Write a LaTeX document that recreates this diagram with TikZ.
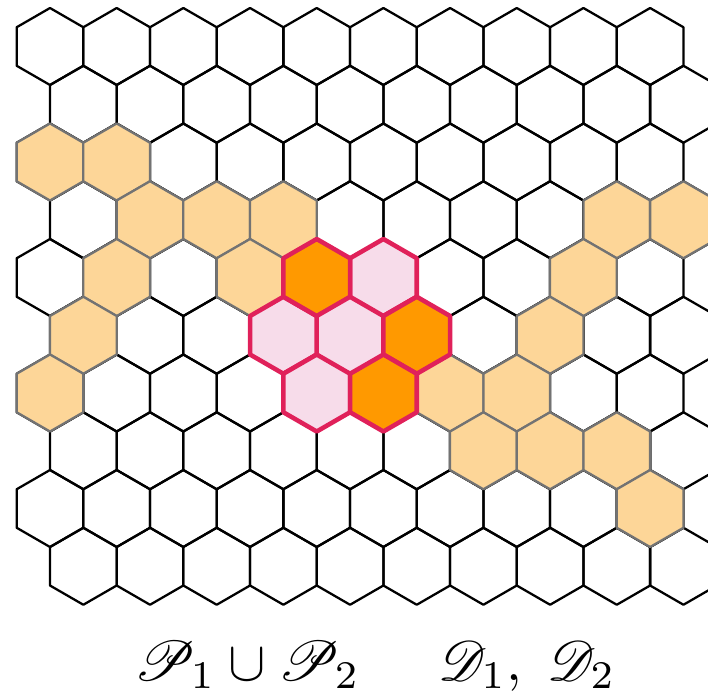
\documentclass[tikz,border=0pt]{standalone}
\usepackage{xcolor}
\usepackage{amsmath}
\usepackage{mathrsfs}
\usepackage{graphicx}
\usepackage{tikz}
\definecolor{cellpeach}{RGB}{253, 214, 152}
\definecolor{cellorange}{RGB}{255, 153, 0}
\definecolor{cellpink}{RGB}{247, 220, 234}
\definecolor{rimcrimson}{RGB}{224, 33, 90}

% one cell of the grid, row #2, column #3
\newcommand{\hexcell}[3]{%
  \pic[#1] at ({50+66.68*(#3-1)+33.34*(1-mod(#2,2))},{46.5+57.75*(#2-1)}) {hexagon};}

\begin{document}
\begin{tikzpicture}[
  x=0.75pt, y=-0.75pt,
  hexagon/.pic={\path[pic actions] (90:38.5) -- (150:38.5) -- (210:38.5)
      -- (270:38.5) -- (330:38.5) -- (30:38.5) -- cycle;},
  plain/.style={draw=black, line width=1.7pt, line join=round},
  peach/.style={fill=cellpeach, draw=black!55, line width=1.7pt, line join=round},
  core/.style={fill=cellpink, draw=black, line width=1pt},
  rim/.style={draw=rimcrimson, line width=3.4pt, line join=round},
  caption/.style={anchor=base, inner sep=0pt}
]
  \useasboundingbox (0,0) rectangle (708,697);

  \begin{scope}
    \clip (0,0) rectangle (708,697);
    \foreach \r in {1,...,10}
      \foreach \c in {1,...,10}
        {\hexcell{plain}{\r}{\c}}

    \foreach \r/\c in {3/1, 3/2, 4/2, 4/3, 4/4, 4/9, 4/10, 5/2, 5/4, 5/9,
                       6/1, 6/8, 7/1, 7/7, 7/8, 8/7, 8/8, 8/9, 9/10}
      {\hexcell{peach}{\r}{\c}}

    \hexcell{core}{6}{5}
    \foreach \r/\c in {5/6, 6/4, 7/5}
      {\hexcell{rim, fill=cellpink}{\r}{\c}}
    \foreach \r/\c in {5/5, 6/6, 7/6}
      {\hexcell{rim, fill=cellorange}{\r}{\c}}
  \end{scope}

  \node[caption] (union) at (247,680) {\scalebox{4.2}{$\mathscr{P}_1 \cup \mathscr{P}_2$}};
  \node[caption] (pair) at (527,680) {\scalebox{4.2}{$\mathscr{D}_1,\;\mathscr{D}_2$}};
\end{tikzpicture}
\end{document}
